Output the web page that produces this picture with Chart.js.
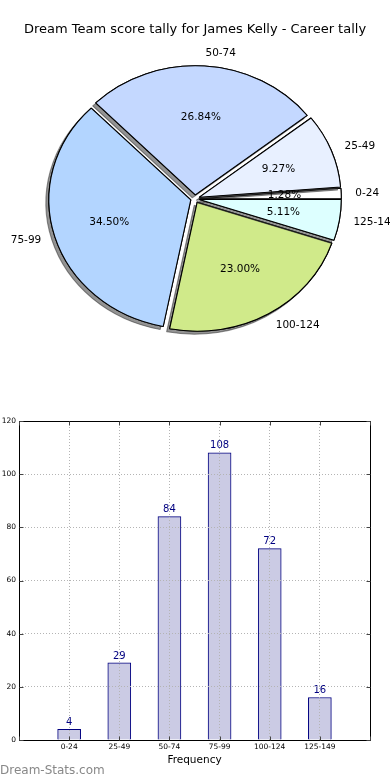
<!DOCTYPE html>
<html>
<head>
<meta charset="utf-8">
<title>Dream Team score tally</title>
<script src="https://cdn.jsdelivr.net/npm/chart.js@4/dist/chart.umd.min.js"></script>
<style>
  body { margin: 0; background: #fff; width: 390px; height: 780px; overflow: hidden; position: relative; font-family: "DejaVu Sans", sans-serif; }
  #pie { position: absolute; left: 0; top: 0; }
  #bars { position: absolute; left: 0; top: 400px; }
  #mark { position: absolute; left: 0; top: 762px; font-size: 12px; line-height: 16px; color: #888; white-space: nowrap; }
</style>
</head>
<body>
<canvas id="pie" width="390" height="350"></canvas>
<canvas id="bars" width="390" height="380"></canvas>
<div id="mark">Dream-Stats.com</div>
<script>
const categories = ['0-24', '25-49', '50-74', '75-99', '100-124', '125-149'];
const counts = [4, 29, 84, 108, 72, 16];
const pieColors = ['#ffffff', '#e8f0ff', '#c4d8ff', '#b3d5ff', '#d0ea8a', '#ddffff'];
const chartTitle = 'Dream Team score tally for James Kelly - Career tally';
const xTitle = 'Frequency';
const yMax = 120;
const yStep = 20;

Chart.defaults.font.family = '"DejaVu Sans", sans-serif';

const total = counts.reduce((a, b) => a + b, 0);
const stretch = 1.1;   // original pie is a bit wider than tall
const explode = 4;     // px each slice is pushed out

// original runs counter-clockwise from 3 o'clock, chart.js runs clockwise -> reverse
const pieLabels = categories.slice().reverse();
const pieData = counts.slice().reverse();
const pieBg = pieColors.slice().reverse();

const piePlugin = {
  id: 'piePlugin',
  beforeDatasetsDraw(chart) {
    const ctx = chart.ctx;
    const arcs = chart.getDatasetMeta(0).data;
    const cx = arcs[0].x, cy = arcs[0].y;
    ctx.save();
    ctx.translate(cx, cy);
    ctx.scale(stretch, 1);
    ctx.translate(-cx, -cy);
    // draw in the original order so each shadow lies over the previous slice
    for (let i = arcs.length - 1; i >= 0; i--) {
      const a = arcs[i];
      const mid = (a.startAngle + a.endAngle) / 2;
      ctx.save();
      ctx.translate(Math.cos(mid) * explode, Math.sin(mid) * explode);
      ctx.save();
      ctx.shadowColor = 'rgba(40,40,40,0.5)';
      ctx.shadowOffsetX = -3;
      ctx.shadowOffsetY = 3;
      a.draw(ctx);
      ctx.restore();
      a.draw(ctx);
      ctx.restore();
    }
    ctx.restore();

    ctx.save();
    ctx.font = '10.5px "DejaVu Sans"';
    ctx.fillStyle = '#000';
    ctx.textBaseline = 'middle';
    arcs.forEach((a, i) => {
      const mid = (a.startAngle + a.endAngle) / 2;
      const r = a.outerRadius;
      const at = d => [cx + d * Math.cos(mid) * stretch, cy + d * Math.sin(mid)];
      let [x, y] = at(1.1 * r + explode);
      ctx.textAlign = Math.cos(mid) >= 0 ? 'left' : 'right';
      ctx.fillText(pieLabels[i], x, y);
      [x, y] = at(0.6 * r + explode);
      ctx.textAlign = 'center';
      ctx.fillText((pieData[i] / total * 100).toFixed(2) + '%', x, y);
    });
    ctx.restore();
    return false;
  }
};

new Chart(document.getElementById('pie'), {
  type: 'pie',
  data: {
    labels: pieLabels,
    datasets: [{
      data: pieData,
      backgroundColor: pieBg,
      borderColor: '#000',
      borderWidth: 1
    }]
  },
  options: {
    responsive: false,
    animation: false,
    rotation: 90,
    radius: 129,
    layout: { padding: 0 },
    plugins: {
      legend: { display: false },
      tooltip: { enabled: false },
      title: {
        display: true,
        text: chartTitle,
        color: '#000',
        font: { size: 13, weight: 'normal' },
        padding: { top: 22, bottom: 10 }
      }
    }
  },
  plugins: [piePlugin]
});

// box round the plot with inward tick marks
const framePlugin = {
  id: 'framePlugin',
  afterDraw(chart) {
    const { ctx, chartArea: c } = chart;
    const L = Math.round(c.left) + 0.5, R = Math.round(c.right) + 0.5;
    const T = Math.round(c.top) + 0.5, B = Math.round(c.bottom) + 0.5;
    ctx.save();
    ctx.strokeStyle = '#000';
    ctx.lineWidth = 1;
    ctx.strokeRect(L, T, R - L, B - T);
    ctx.beginPath();
    chart.scales.x.ticks.forEach(t => {
      const x = Math.round(chart.scales.x.getPixelForValue(t.value)) + 0.5;
      ctx.moveTo(x, T); ctx.lineTo(x, T + 4);
      ctx.moveTo(x, B); ctx.lineTo(x, B - 4);
    });
    chart.scales.y.ticks.forEach(t => {
      const y = Math.round(chart.scales.y.getPixelForValue(t.value)) + 0.5;
      ctx.moveTo(L, y); ctx.lineTo(L + 4, y);
      ctx.moveTo(R, y); ctx.lineTo(R - 4, y);
    });
    ctx.strokeStyle = '#444';
    ctx.stroke();
    ctx.restore();
  }
};

const valuePlugin = {
  id: 'valuePlugin',
  afterDatasetsDraw(chart) {
    const ctx = chart.ctx;
    ctx.save();
    ctx.font = '10px "DejaVu Sans"';
    ctx.fillStyle = '#000080';
    ctx.textAlign = 'center';
    ctx.textBaseline = 'bottom';
    chart.getDatasetMeta(0).data.forEach((bar, i) => {
      ctx.fillText(String(counts[i]), bar.x, bar.y - 2);
    });
    ctx.restore();
  }
};

const gridStyle = { color: '#b4b4b4', lineWidth: 1, drawTicks: false, offset: false, z: 1 };

new Chart(document.getElementById('bars'), {
  type: 'bar',
  data: {
    datasets: [{
      data: counts.map((v, i) => ({ x: i + 1, y: v })),
      backgroundColor: '#cbcbe4',
      borderColor: '#000080',
      borderWidth: 1,
      barThickness: 23
    }]
  },
  options: {
    responsive: false,
    animation: false,
    layout: { padding: { top: 21, right: 20, left: 0, bottom: 0 } },
    plugins: { legend: { display: false }, tooltip: { enabled: false } },
    scales: {
      x: {
        type: 'linear',
        offset: false,
        min: 0,
        max: categories.length + 1,
        afterFit(s) { s.height = 40; },
        ticks: {
          stepSize: 1,
          autoSkip: false,
          maxRotation: 0,
          padding: 3,
          color: '#000',
          font: { size: 7.5 },
          callback: v => categories[v - 1] || ''
        },
        grid: gridStyle,
        border: { display: false, dash: [1, 2] },
        title: { display: true, text: xTitle, color: '#000', font: { size: 10.5 }, padding: { top: 0, bottom: 13 } }
      },
      y: {
        min: 0,
        max: yMax,
        afterFit(s) { s.width = 19; },
        ticks: { stepSize: yStep, padding: 3, color: '#000', font: { size: 7.5 } },
        grid: gridStyle,
        border: { display: false, dash: [1, 2] }
      }
    }
  },
  plugins: [framePlugin, valuePlugin]
});
</script>
</body>
</html>
